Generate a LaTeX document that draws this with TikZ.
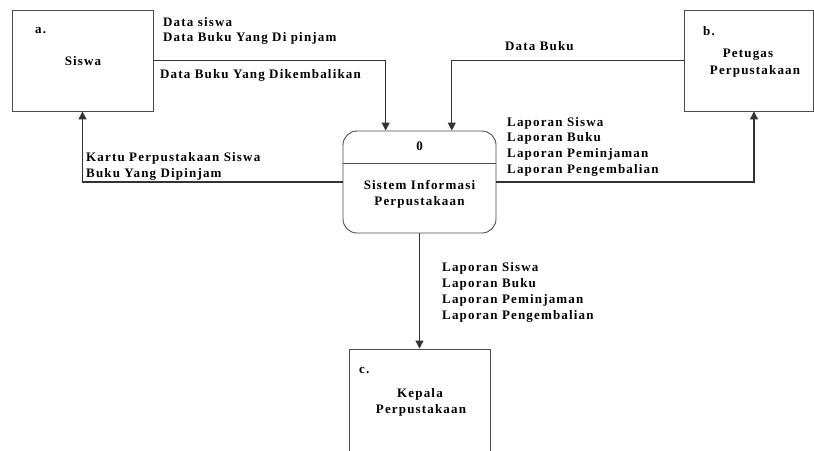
\documentclass[tikz,border=0pt]{standalone}
\usepackage{fontspec}
\setmainfont{Liberation Serif}[BoldFont={Liberation Serif Bold},LetterSpace=9]
\usetikzlibrary{arrows.meta,calc}
\begin{document}
\begin{tikzpicture}[x=1pt,y=-1pt,
  ent/.style={draw=black!70,line width=0.9pt,minimum width=141pt,minimum height=101pt,inner sep=0pt},
  proc/.style={draw=black!70,line width=0.9pt,rounded corners=14pt,minimum width=153pt,minimum height=102pt,inner sep=0pt},
  flow/.style={draw=black!80,line width=1.1pt,-{Triangle[length=8pt,width=8pt]}},
  lbl/.style={anchor=base west,inner sep=0pt,font=\fontsize{13}{15}\selectfont\bfseries},
  ctr/.style={anchor=base,inner sep=0pt,font=\fontsize{13}{15}\selectfont\bfseries}]
\useasboundingbox (0,0) rectangle (814,450);
\clip (0,0) rectangle (814,450);
\node[ent] (siswa) at (82.5,60.5) {};
\node[ent,minimum width=129pt] (petugas) at (748.5,60.5) {};
\node[proc] (proc) at (419.5,182) {};
\node[ent,minimum height=120pt] (kepala) at (419.5,409) {};
\draw[draw=black!70,line width=0.9pt] ($(proc.north west)+(0,33)$) coordinate (d1) -- ($(proc.north east)+(0,33)$) coordinate (d2);
% entity texts
\node[lbl] (ta) at (35,33) {a.};
\node[ctr] (tsiswa) at (83,65) {Siswa};
\node[lbl] (tb) at (703,35) {b.};
\node[ctr] (tpet1) at (748,57) {Petugas};
\node[ctr] (tpet2) at (755,74) {Perpustakaan};
\node[lbl] (tc) at (359,373) {c.};
\node[ctr] (tkep1) at (420,397) {Kepala};
\node[ctr] (tkep2) at (421,413) {Perpustakaan};
\node[ctr] (t0) at (419.5,150) {0};
\node[ctr] (tsi1) at (419.5,189) {Sistem Informasi};
\node[ctr] (tsi2) at (419.5,205) {Perpustakaan};
% flows
\draw[flow] (siswa.east) -| ($(proc.north west)!0.28!(proc.north east)$);
\draw[flow] (petugas.west) -| ($(proc.north west)!0.71!(proc.north east)$);
\draw[flow] (proc.west) -| (siswa.south);
\draw[flow] (proc.east) -| ($(petugas.south)+(5.5,0)$);
\draw[flow] (proc.south) -- (kepala.north);
% flow labels
\node[lbl] (l1) at (163,26) {Data siswa};
\node[lbl] (l2) at (163,41.5) {Data Buku Yang Di pinjam};
\node[lbl] (l3) at (160,78) {Data Buku Yang Dikembalikan};
\node[lbl] (l4) at (86,161.5) {Kartu Perpustakaan Siswa};
\node[lbl] (l5) at (86,177) {Buku Yang Dipinjam};
\node[lbl] (l6) at (505,50) {Data Buku};
\node[lbl] (r1) at (507,126) {Laporan Siswa};
\node[lbl] (r2) at (507,141.7) {Laporan Buku};
\node[lbl] (r3) at (507,157.4) {Laporan Peminjaman};
\node[lbl] (r4) at (507,173) {Laporan Pengembalian};
\node[lbl] (b1) at (442,271.7) {Laporan Siswa};
\node[lbl] (b2) at (442,287.6) {Laporan Buku};
\node[lbl] (b3) at (442,303.5) {Laporan Peminjaman};
\node[lbl] (b4) at (442,319.4) {Laporan Pengembalian};
\end{tikzpicture}
\end{document}
